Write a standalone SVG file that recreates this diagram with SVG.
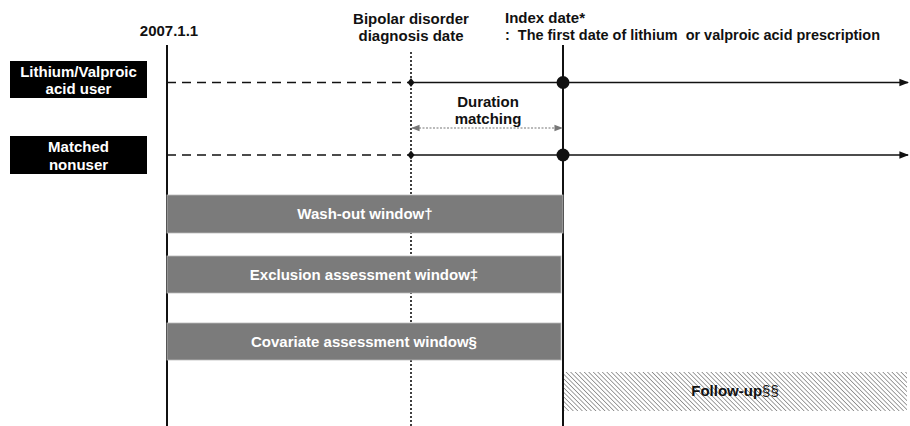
<svg xmlns="http://www.w3.org/2000/svg" width="910" height="426" viewBox="0 0 910 426">
<style>
text{font-family:"Liberation Sans",Arial,sans-serif;font-weight:bold;}
.hdr{font-size:15px;fill:#111;}
.lbl{font-size:15px;fill:#fff;text-anchor:middle;}
.bar{fill:#7b7b7b;stroke:#bbb;stroke-width:0.8;}
.bt{font-size:15px;fill:#fff;text-anchor:middle;}
.dash{stroke:#111;stroke-width:1.6;stroke-dasharray:9 6;fill:none;}
.solid{stroke:#111;stroke-width:1.6;fill:none;}
</style>
<defs>
<marker id="arr" viewBox="0 0 10 10" refX="9" refY="5" markerWidth="6" markerHeight="6" orient="auto"><path d="M0,1 L10,5 L0,9 z" fill="#111"/></marker>
<marker id="garr" viewBox="0 0 10 10" refX="9" refY="5" markerWidth="7" markerHeight="7" orient="auto-start-reverse"><path d="M0,1 L10,5 L0,9 z" fill="#777"/></marker>
<pattern id="hatch" patternUnits="userSpaceOnUse" width="3.2" height="3.2" patternTransform="rotate(45)"><rect width="3.2" height="3.2" fill="#fff"/><line x1="0" y1="0" x2="3.2" y2="0" stroke="#8a8a8a" stroke-width="1.6"/></pattern>
</defs>
<rect width="910" height="426" fill="#fff"/>
<g id="headers">
<text class="hdr" x="169" y="36" text-anchor="middle" font-size="13.5">2007.1.1</text>
<text class="hdr" x="411" y="24" text-anchor="middle">Bipolar disorder</text>
<text class="hdr" x="411" y="41" text-anchor="middle">diagnosis date</text>
<text class="hdr" x="505" y="23">Index date*</text>
<text class="hdr" x="505" y="40" font-size="14.4" xml:space="preserve" textLength="375" lengthAdjust="spacingAndGlyphs">:  The first date of lithium  or valproic acid prescription</text>
</g>
<g id="connectors">
<line x1="167" y1="45" x2="167" y2="426" stroke="#111" stroke-width="2"/>
<line x1="411" y1="52" x2="411" y2="426" stroke="#111" stroke-width="1.6" stroke-dasharray="2 2"/>
<line x1="563" y1="45" x2="563" y2="426" stroke="#111" stroke-width="2"/>
<line class="dash" x1="167" y1="82.5" x2="411" y2="82.5"/>
<line class="solid" x1="411" y1="82.5" x2="908" y2="82.5" marker-end="url(#arr)"/>
<line class="dash" x1="167" y1="155" x2="411" y2="155"/>
<line class="solid" x1="411" y1="155" x2="908" y2="155" marker-end="url(#arr)"/>
<line x1="412" y1="128" x2="562" y2="128" stroke="#777" stroke-width="1.2" stroke-dasharray="2 1.5" marker-start="url(#garr)" marker-end="url(#garr)"/>
<path d="M411,78 L414.5,82.5 L411,87 L407.5,82.5 z" fill="#111"/>
<path d="M411,150.5 L414.5,155 L411,159.5 L407.5,155 z" fill="#111"/>
<circle cx="563" cy="82.5" r="6.5" fill="#111"/>
<circle cx="563" cy="155" r="6.5" fill="#111"/>
</g>
<g id="user">
<rect x="10" y="61" width="137" height="37" fill="#000"/>
<text class="lbl" x="78.5" y="77">Lithium/Valproic</text>
<text class="lbl" x="78.5" y="94">acid user</text>
</g>
<g id="nonuser">
<rect x="10" y="136" width="137" height="38" fill="#000"/>
<text class="lbl" x="78.5" y="152">Matched</text>
<text class="lbl" x="78.5" y="170">nonuser</text>
</g>
<g id="duration">
<text class="hdr" x="488" y="107" text-anchor="middle">Duration</text>
<text class="hdr" x="488" y="124" text-anchor="middle">matching</text>
</g>
<g id="washout">
<rect class="bar" x="167" y="195" width="396" height="38"/>
<text class="bt" x="365" y="219">Wash-out window†</text>
</g>
<g id="exclusion">
<rect class="bar" x="167" y="256" width="394" height="37"/>
<text class="bt" x="364" y="280">Exclusion assessment window‡</text>
</g>
<g id="covariate">
<rect class="bar" x="167" y="323" width="394" height="37"/>
<text class="bt" x="364" y="347">Covariate assessment window§</text>
</g>
<g id="followup">
<rect x="564" y="372" width="343" height="39" fill="url(#hatch)"/>
<text x="735" y="396" font-size="15" fill="#111" text-anchor="middle">Follow-up<tspan font-weight="normal">§§</tspan></text>
</g>
</svg>
